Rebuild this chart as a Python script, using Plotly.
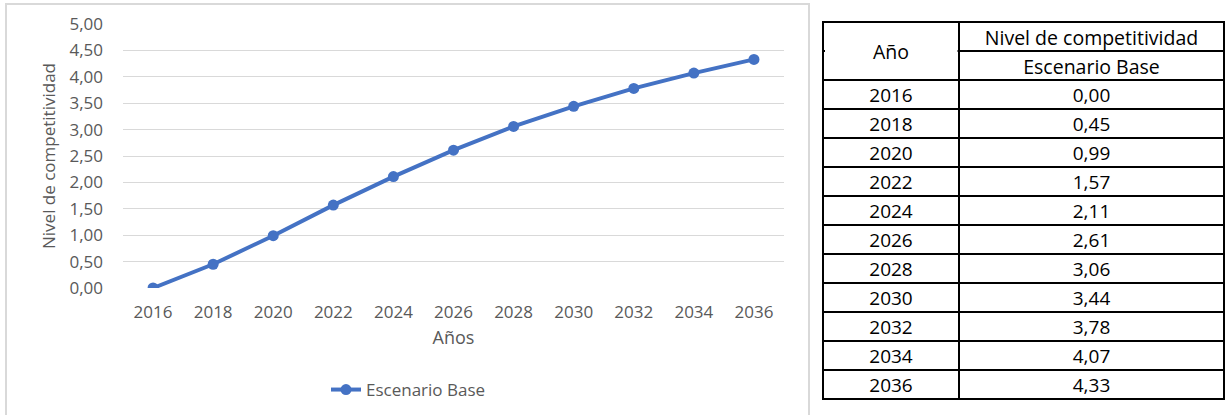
import plotly.graph_objects as go

# Series: competitiveness level, base scenario
years = ["2016", "2018", "2020", "2022", "2024", "2026", "2028", "2030", "2032", "2034", "2036"]
base_values = [0.00, 0.45, 0.99, 1.57, 2.11, 2.61, 3.06, 3.44, 3.78, 4.07, 4.33]
series_name = "Escenario Base"
y_ticks = [0.0, 0.5, 1.0, 1.5, 2.0, 2.5, 3.0, 3.5, 4.0, 4.5, 5.0]

# Table heading texts
col_year = "Año"
col_value_top = "Nivel de competitividad"

W, H = 1227, 415
FONT = "Open Sans"
GRAY = "#595959"
BLUE = "#4472C4"


def px_x(p):
    return p / W


def px_y(p):
    return 1 - p / H


fig = go.Figure()

fig.add_trace(go.Scatter(
    x=years, y=base_values, name=series_name,
    mode="lines+markers",
    line=dict(color=BLUE, width=4),
    marker=dict(color=BLUE, size=11),
    xaxis="x", yaxis="y",
))

# Data table beside the chart; two heading rows, the year heading is merged
fmt = [f"{v:.2f}".replace(".", ",") for v in base_values]

fig.add_trace(go.Table(
    domain=dict(x=[px_x(823), px_x(1225)], y=[px_y(402), px_y(22)]),
    columnwidth=[136, 265],
    header=dict(
        values=[["", ""], [col_value_top, series_name]],
        height=29,
        align="center",
        line=dict(color="black", width=2),
        fill=dict(color="white"),
        font=dict(family=FONT, size=19.5, color="black"),
    ),
    cells=dict(
        values=[years, fmt],
        height=29,
        align="center",
        line=dict(color="black", width=2),
        fill=dict(color="white"),
        font=dict(family=FONT, size=19, color="black"),
    ),
))

fig.update_layout(
    width=W, height=H,
    margin=dict(l=0, r=0, t=0, b=0, autoexpand=False),
    paper_bgcolor="white", plot_bgcolor="white",
    separators=",.",
    font=dict(family=FONT, color=GRAY, size=17),
    showlegend=True,
    legend=dict(
        orientation="h", x=px_x(326), y=px_y(390), xanchor="left", yanchor="middle",
        font=dict(family=FONT, size=17, color=GRAY),
        bgcolor="rgba(0,0,0,0)",
    ),
    xaxis=dict(
        domain=[px_x(123), px_x(784)],
        type="category",
        range=[-0.5, 10.5],
        showgrid=False, showline=False, zeroline=False,
        ticks="", ticklabelstandoff=12,
        tickfont=dict(size=17, color=GRAY),
        title=dict(text="Años", font=dict(size=18, color=GRAY), standoff=9),
        automargin=False,
        fixedrange=True,
    ),
    yaxis=dict(
        domain=[px_y(288), px_y(24)],
        range=[0, 5],
        tickvals=y_ticks,
        tickformat=".2f",
        showgrid=True, gridcolor="#d9d9d9", gridwidth=1,
        zeroline=False, showline=False,
        ticks="", ticklabelstandoff=19,
        tickfont=dict(size=17, color=GRAY),
        title=dict(text="Nivel de competitividad", font=dict(size=17, color=GRAY), standoff=9),
        automargin=False,
        fixedrange=True,
    ),
    annotations=[
        # merged heading cell of the year column
        dict(text=col_year, xref="paper", yref="paper",
             x=px_x(891), y=px_y(51), xanchor="center", yanchor="middle",
             showarrow=False, font=dict(family=FONT, size=19.5, color="black")),
    ],
    shapes=[
        # chart frame
        dict(type="rect", xref="paper", yref="paper",
             x0=px_x(6), x1=px_x(809), y0=px_y(420), y1=px_y(4),
             line=dict(color="#d9d9d9", width=2), layer="below"),
        # hide the rule inside the merged year heading cell
        dict(type="line", xref="paper", yref="paper",
             x0=px_x(825), x1=px_x(957.5), y0=px_y(51), y1=px_y(51),
             line=dict(color="white", width=4)),
    ],
)

fig.write_html("out.html")
